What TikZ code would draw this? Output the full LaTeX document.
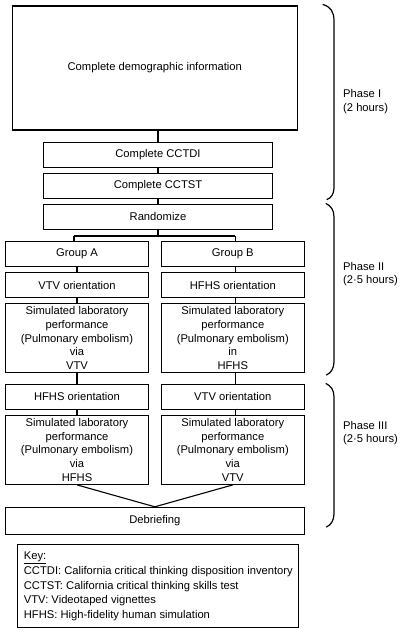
\documentclass[tikz,border=0pt]{standalone}
\usepackage{fontspec}
\setmainfont{Liberation Sans}
\begin{document}
\begin{tikzpicture}[x=1pt,y=-1pt,
  box/.style={draw, line width=1.1pt, inner sep=0pt, align=center,
    font=\fontsize{11.2}{13.7}\selectfont},
  conn/.style={line width=1.1pt},
  bracket/.style={line width=1.2pt, line cap=round},
  phaselbl/.style={anchor=west, align=left, inner sep=0pt,
    font=\fontsize{11.2}{13.2}\selectfont}]
\useasboundingbox (0,0) rectangle (402,632);
% boxes
\node[box, minimum width=285pt, minimum height=124pt] (demo) at (154.8,68) {Complete demographic information};
\node[box, minimum width=229.4pt, minimum height=24.6pt] (cctdi) at (158,155) {Complete CCTDI};
\node[box, minimum width=229.4pt, minimum height=25.4pt] (cctst) at (158,186) {Complete CCTST};
\node[box, minimum width=229.4pt, minimum height=25.3pt] (rand) at (158,216.7) {Randomize};
\node[box, minimum width=143.4pt, minimum height=25pt] (grpA) at (77,254.2) {Group A};
\node[box, minimum width=143pt, minimum height=25pt] (grpB) at (232.8,254.2) {Group B};
\node[box, minimum width=143.4pt, minimum height=25pt] (vtvA) at (77,285.2) {VTV orientation};
\node[box, minimum width=143pt, minimum height=25pt] (hfhsB) at (232.8,285.2) {HFHS orientation};
\node[box, minimum width=143.4pt, minimum height=69.4pt] (simA) at (77,338) {Simulated laboratory\\performance\\(Pulmonary embolism)\\via\\VTV};
\node[box, minimum width=143pt, minimum height=69.4pt] (simB) at (232.8,338) {Simulated laboratory\\performance\\(Pulmonary embolism)\\in\\HFHS};
\node[box, minimum width=143.4pt, minimum height=25.4pt] (hfhsA) at (77,396.9) {HFHS orientation};
\node[box, minimum width=143pt, minimum height=25.4pt] (vtvB) at (232.8,396.9) {VTV orientation};
\node[box, minimum width=143.4pt, minimum height=69.3pt] (simA2) at (77,449.7) {Simulated laboratory\\performance\\(Pulmonary embolism)\\via\\HFHS};
\node[box, minimum width=143pt, minimum height=69.3pt] (simB2) at (232.8,449.7) {Simulated laboratory\\performance\\(Pulmonary embolism)\\via\\VTV};
\node[box, minimum width=299pt, minimum height=26.7pt] (debrief) at (154.8,520.7) {Debriefing};
\node[draw, line width=1.1pt, anchor=north west, inner xsep=5pt, inner ysep=0pt,
  minimum width=281pt, minimum height=83pt, align=left,
  font=\fontsize{11.2}{14.7}\selectfont] (key) at (17.3,544.3)
  {\underline{Key:}\\CCTDI: California critical thinking disposition inventory\\CCTST: California critical thinking skills test\\VTV: Videotaped vignettes\\HFHS: High-fidelity human simulation};
% connectors
\draw[conn] (cctdi.north) -- (cctdi.north |- demo.south);
\draw[conn] (cctdi.south) -- (cctst.north);
\draw[conn] (cctst.south) -- (rand.north);
\coordinate (split) at (158,236);
\coordinate (brA) at (74,236);
\coordinate (brB) at (235.3,236);
\draw[conn] (rand.south) -- (split);
\draw[conn] (brA) -- (brB);
\draw[conn] (brA) -- (brA |- grpA.north);
\draw[conn] (brB) -- (brB |- grpB.north);
\draw[conn] (grpA.south) -- (vtvA.north);
\draw[conn] (vtvA.south) -- (simA.north);
\draw[conn] (simA.south) -- (hfhsA.north);
\draw[conn] (hfhsA.south) -- (simA2.north);
\draw[conn] ([xshift=3pt]grpB.south) -- ([xshift=3pt]hfhsB.north);
\draw[conn] ([xshift=3pt]hfhsB.south) -- ([xshift=3pt]simB.north);
\draw[conn] ([xshift=3pt]simB.south) -- ([xshift=3pt]vtvB.north);
\draw[conn] ([xshift=3pt]vtvB.south) -- ([xshift=3pt]simB2.north);
\draw[conn] (simA2.south) -- (debrief.north);
\draw[conn] (simB2.south) -- (debrief.north);
% phase brackets
\draw[bracket] (323,4.5) .. controls (331,7) and (334,12) .. (334,21) -- (334,188) .. controls (334,194) and (331,198) .. (327,199.5);
\draw[bracket] (326,203.5) .. controls (331,206) and (334,210) .. (334,217) -- (334,362) .. controls (334,368) and (331,373) .. (326.5,375);
\draw[bracket] (326,383.5) .. controls (331,386) and (334,390) .. (334,397) -- (334,514) .. controls (334,520) and (331,525) .. (326.5,527);
\node[phaselbl] (ph1) at (343,101.5) {Phase I\\(2 hours)};
\node[phaselbl] (ph2) at (343,273.7) {Phase II\\(2{\textperiodcentered}5 hours)};
\node[phaselbl] (ph3) at (343,433) {Phase III\\(2{\textperiodcentered}5 hours)};
\end{tikzpicture}
\end{document}
